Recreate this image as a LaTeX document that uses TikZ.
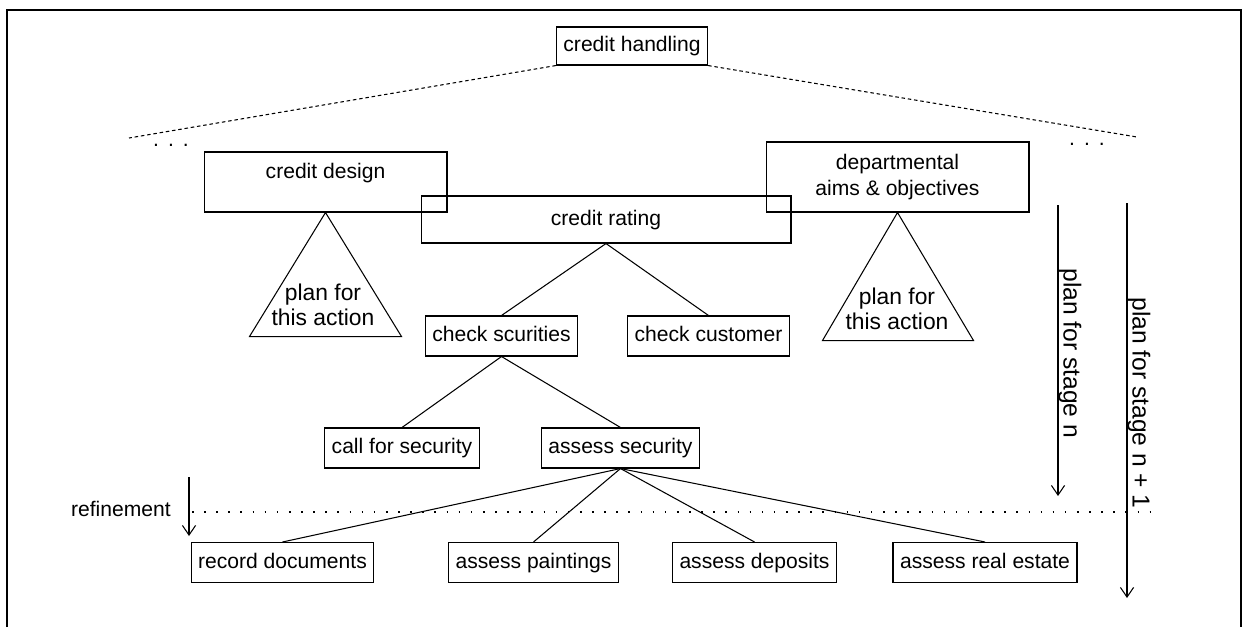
\documentclass[tikz,border=0pt]{standalone}
\usepackage{fontspec}
\setmainfont{Liberation Sans}
\usetikzlibrary{arrows.meta}

\begin{document}
\begin{tikzpicture}[x=0.02cm,y=-0.02cm,
  box/.style={draw,line width=0.6pt,inner xsep=4pt,inner ysep=0pt,
              minimum height=0.8cm,font=\fontsize{12}{14.5}\selectfont},
  leaf/.style={box,text height=9pt,text depth=2.7pt},
  link/.style={line width=0.6pt},
  dashlink/.style={line width=0.6pt,dash pattern=on 2pt off 1.6pt},
  dotline/.style={line width=1pt,dash pattern=on 0.9pt off 6pt},
  arr/.style={-{Straight Barb[length=5.5pt,width=7.5pt]},line width=0.6pt},
  plantxt/.style={align=center,inner sep=0pt,font=\fontsize{13}{14.5}\selectfont},
  stagelbl/.style={rotate=-90,anchor=west,inner sep=0pt,font=\fontsize{14}{16}\selectfont},
  frame/.style={line width=1.2pt}
]
\useasboundingbox (0,0) rectangle (1243,627);
\draw[frame] (7,627) -- (7,10) -- (1241,10) -- (1241,627);

\node[leaf,minimum height=0.76cm] (ch) at (632,46) {credit handling};
\node[box,minimum width=4.86cm,minimum height=1.2cm,text height=9pt,text depth=12.8pt] (cd) at (325.5,182) {credit design};
\node[box,align=center,minimum width=5.26cm,minimum height=1.4cm] (dep) at (897.5,177) {departmental\\aims \& objectives};
\node[leaf,minimum width=7.4cm,minimum height=0.94cm] (cr) at (606,219.5) {credit rating};

\coordinate (lfar) at (129,138);
\coordinate (rfar) at (1137,137);
\draw[dashlink] (ch.south west) -- (lfar);
\draw[dashlink] (ch.south east) -- (rfar);
\node[anchor=base,inner sep=0pt,font=\fontsize{12}{14}\selectfont] (ldots) at (171,146) {.\hspace{0.18cm}.\hspace{0.18cm}.};
\node[anchor=base,inner sep=0pt,font=\fontsize{12}{14}\selectfont] (rdots) at (1087,145) {.\hspace{0.18cm}.\hspace{0.18cm}.};

\draw[link] (cd.south) -- ++(-76,124) -- ++(152,0) -- cycle;
\node[plantxt] (plan1) at (323,305) {plan for\\this action};
\draw[link] (dep.south) -- ++(-75,128) -- ++(151,0) -- cycle;
\node[plantxt] (plan2) at (897,309) {plan for\\this action};

\node[leaf] (cs) at (501.5,336) {check scurities};
\node[leaf] (cc) at (708.5,336) {check customer};
\node[leaf] (cfs) at (402,448) {call for security};
\node[leaf] (as) at (620.5,448) {assess security};
\node[leaf] (rd) at (282.5,562.5) {record documents};
\node[leaf] (ap) at (533.5,562.5) {assess paintings};
\node[leaf] (ad) at (754.5,562.5) {assess deposits};
\node[leaf] (re) at (985,562.5) {assess real estate};

\draw[link] (cr.south) -- (cs.north);
\draw[link] (cr.south) -- (cc.north);
\draw[link] (cs.south) -- (cfs.north);
\draw[link] (cs.south) -- (as.north);
\foreach \t in {rd,ap,ad,re}
  \draw[link] (as.south) -- (\t.north);

\coordinate (rtop) at (189,477);
\coordinate (rbot) at (189,536);
\draw[arr] (rtop) -- (rbot);
\node[anchor=east,inner sep=0pt,font=\fontsize{12}{14}\selectfont] (refine) at (171,509) {refinement};
\coordinate (dl) at (192,512);
\coordinate (dr) at (1152,512);
\draw[dotline] (dl) -- (dr);

\coordinate (s1top) at (1058,205);
\coordinate (s1bot) at (1058,496);
\coordinate (s2top) at (1127,203);
\coordinate (s2bot) at (1127,598);
\draw[arr] (s1top) -- (s1bot);
\draw[arr] (s2top) -- (s2bot);
\node[stagelbl] (stn) at (1070,268) {plan for stage n};
\node[stagelbl] (stn1) at (1139,297) {plan for stage n + 1};
\end{tikzpicture}
\end{document}
